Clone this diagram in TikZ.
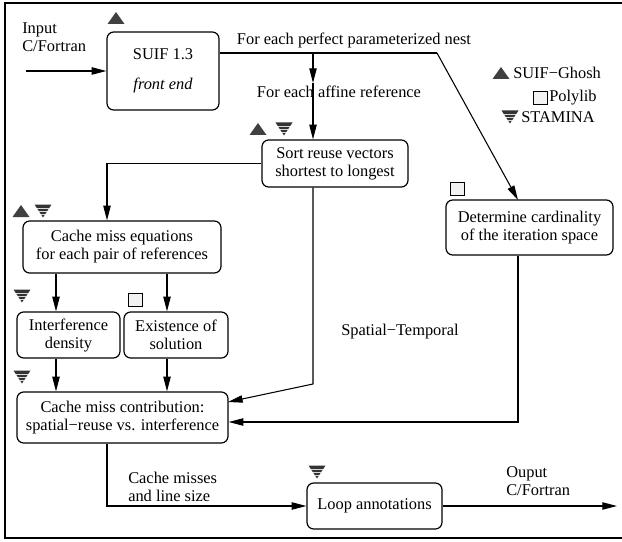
\documentclass[tikz,border=0pt]{standalone}
\usepackage{fontspec}
\setmainfont{Liberation Serif}
\usetikzlibrary{arrows.meta,calc}
\begin{document}
\begin{tikzpicture}[x=0.75pt,y=-0.75pt,
  font=\fontsize{12.3pt}{13.5pt}\selectfont,
  box/.style={draw, rounded corners=5pt, line width=0.9pt, align=center, inner sep=0pt},
  conn/.style={line width=0.8pt, -{Triangle[length=11pt,width=5.5pt]}},
  plainline/.style={line width=0.8pt},
  lbl/.style={inner sep=0pt},
  suifsym/.pic={\fill[black!75] (-8.5,6) -- (8.5,6) -- (0,-6) -- cycle;},
  stamsym/.pic={
    \fill[black!80] (-8.5,-6.5) -- (8.5,-6.5) -- (0,6.5) -- cycle;
    \draw[black!15, line width=0.45pt] (-6.2,-3) -- (6.2,-3);
    \draw[black!15, line width=0.45pt] (-4.2,0) -- (4.2,0);
    \draw[black!15, line width=0.45pt] (-2.2,3) -- (2.2,3);},
  polysym/.pic={\draw[line width=0.6pt, fill=black!5] (-7,-6.5) rectangle (7,6.5);}
]
\useasboundingbox (0,0) rectangle (622,542);
\draw[line width=1pt] (630,3) -- (5,3) -- (5,538) -- (630,538);

% boxes
\node[box, minimum width=84pt, minimum height=58.5pt] (suif) at (163,71) {SUIF 1.3\\[9pt]\textit{front end}};
\node[box, minimum width=109.5pt, minimum height=35.25pt] (sort) at (335,163.5) {Sort reuse vectors\\shortest to longest};
\node[box, minimum width=148.5pt, minimum height=39pt] (ceq) at (122,247) {Cache miss equations\\for each pair of references};
\node[box, minimum width=77.25pt, minimum height=34.5pt] (interf) at (68.5,335) {Interference\\density};
\node[box, minimum width=78pt, minimum height=34.5pt] (exist) at (176,335) {Existence of\\solution};
\node[box, minimum width=158.25pt, minimum height=38.25pt] (contrib) at (122.5,417.5) {Cache miss contribution:\\spatial−reuse vs. interference};
\node[box, minimum width=125.25pt, minimum height=41.25pt] (det) at (529.5,227.5) {Determine cardinality\\of the iteration space};
\node[box, minimum width=101.25pt, minimum height=34.5pt] (loop) at (374.5,506) {Loop annotations};

% labels
\node[lbl, anchor=west, align=left] (inlbl) at (22,37) {Input\\C/Fortran};
\node[lbl] (nestlbl) at (354,40) {For each perfect parameterized nest};
\node[lbl] (afflbl) at (339,92) {For each affine reference};
\node[lbl] (stlbl) at (400,332) {Spatial−Temporal};
\node[lbl, anchor=west, align=left] (cmlbl) at (128,487) {Cache misses\\and line size};
\node[lbl, anchor=west, align=left] (outlbl) at (506,481) {Ouput\\C/Fortran};

% legend
\pic at (501,73) {suifsym};
\node[lbl, anchor=west] (lg1) at (513,73) {SUIF−Ghosh};
\pic at (540,98) {polysym};
\node[lbl, anchor=west] (lg2) at (549,98) {Polylib};
\pic at (510,117) {stamsym};
\node[lbl, anchor=west] (lg3) at (521,117) {STAMINA};

% symbols at boxes
\pic at (116,18) {suifsym};
\pic at (258,129) {suifsym};
\pic at (284,129) {stamsym};
\pic at (21,211) {suifsym};
\pic at (43,211) {stamsym};
\pic at (22,296) {stamsym};
\pic at (135,300) {polysym};
\pic at (22,377) {stamsym};
\pic at (457,189) {polysym};
\pic at (317,472) {stamsym};

% coordinates
\coordinate (inp) at (26,71);
\coordinate (j1) at (313,53);
\coordinate (j2) at (437,53);
\coordinate (j3) at (313,83);
\coordinate (dtop) at (518,200);
\coordinate (xl) at (107,0);
\coordinate (xa) at (56,0);
\coordinate (xb) at (167,0);
\coordinate (bend1) at (313,384);
\coordinate (ctip1) at (228,402);
\coordinate (dbot) at (518,422);
\coordinate (outp) at (617,506);

% connectors
\draw[conn] (inp) -- (suif.west);
\draw[plainline] (suif.east |- j1) -- (j2);
\draw[conn] (j2) -- (dtop);
\draw[conn] (j1) -- (j3);
\draw[conn] (j3) -- (sort.north -| j1);
\draw[conn] (sort.west) -| (ceq.north -| xl);
\draw[conn] (ceq.south -| xa) -- (interf.north -| xa);
\draw[conn] (ceq.south -| xb) -- (exist.north -| xb);
\draw[conn] (interf.south -| xa) -- (contrib.north -| xa);
\draw[conn] (exist.south -| xb) -- (contrib.north -| xb);
\draw[conn] (sort.south -| j1) -- (bend1) -- (ctip1);
\draw[conn] (det.south -| dtop) -- (dbot) -- (contrib.east |- dbot);
\draw[conn] (contrib.south -| xl) |- (loop.west);
\draw[conn] (loop.east) -- (outp);
\end{tikzpicture}
\end{document}
